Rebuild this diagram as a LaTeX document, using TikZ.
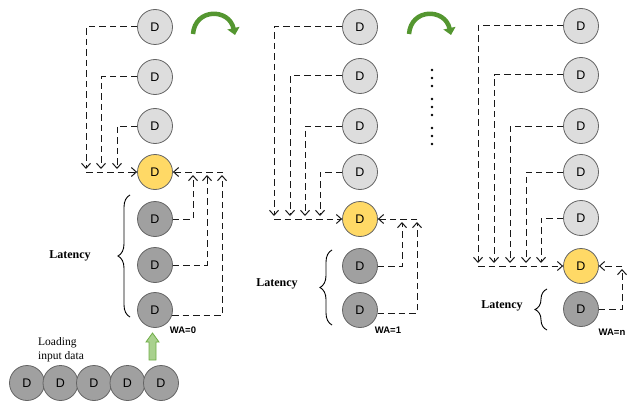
\documentclass[tikz,border=0pt]{standalone}
\usepackage{fontspec}
\setmainfont{Liberation Serif}
\setsansfont{Liberation Sans}
\usetikzlibrary{arrows.meta,decorations.pathreplacing}

\definecolor{cellLight}{RGB}{221,221,221}
\definecolor{cellDark}{RGB}{160,160,160}
\definecolor{cellHot}{RGB}{255,217,102}
\definecolor{cellRim}{RGB}{100,100,100}
\definecolor{turnGreen}{RGB}{84,150,48}
\definecolor{loadFill}{RGB}{169,209,142}
\definecolor{loadRim}{RGB}{112,173,71}

\tikzset{
  cell/.style={circle, minimum size=35pt, inner sep=0pt, draw=cellRim, line width=0.8pt,
               font=\sffamily\fontsize{12.5}{14}\selectfont},
  lightD/.style={cell, fill=cellLight},
  darkD/.style={cell, fill=cellDark},
  hotD/.style={cell, fill=cellHot},
  conn/.style={draw=black!90, line width=1pt, dash pattern=on 6.5pt off 4pt},
  feed/.style={conn, -{Straight Barb[length=5pt,width=9pt]}},
  turn/.style={draw=turnGreen, line width=4.5pt, -{Triangle[length=7pt,width=12pt]}},
  brc/.style={draw=black, line width=0.9pt, decorate, decoration={brace, amplitude=12pt}},
  lat/.style={font=\rmfamily\bfseries\fontsize{12}{14}\selectfont},
  wa/.style={font=\sffamily\bfseries\fontsize{9.5}{11}\selectfont},
  load/.style={font=\rmfamily\fontsize{11.5}{13.5}\selectfont, align=left, inner sep=0pt}
}

\begin{document}
\begin{tikzpicture}[x=1pt, y=-1pt]
\useasboundingbox (0,0) rectangle (628,401);

% ---------------- stage WA=0 ----------------
\node[lightD] (a1) at (155,27)  {D};
\node[lightD] (a2) at (155,77)  {D};
\node[lightD] (a3) at (155,126) {D};
\node[hotD]   (y1) at (155,172) {D};
\node[darkD]  (b1) at (155,219) {D};
\node[darkD]  (b2) at (155,265) {D};
\node[darkD]  (b3) at (155,310) {D};

\coordinate (ta1) at (86,169);
\coordinate (ta2) at (101,169);
\coordinate (ta3) at (117,169);
\coordinate (ha)  at (86,172);
\draw[feed] (a1.west) -| (ta1);
\draw[feed] (a2.west) -| (ta2);
\draw[feed] (a3.west) -| (ta3);
\draw[feed] (ha) -- (y1.west);

\coordinate (tb1) at (193,175);
\coordinate (tb2) at (207,175);
\coordinate (tb3) at (222,175);
\coordinate (hb)  at (223,172);
\draw[feed] (b1.east) -| (tb1);
\draw[feed] (b2.east) -| (tb2);
\draw[feed] (b3.-18) -| (tb3);
\draw[feed] (hb) -- (y1.east);

\draw[brc] (130,317) -- (130,195);
\node[lat] (lat1) at (70,256) {Latency};
\node[wa]  (wa1)  at (183,330) {WA=0};

% input row and loading arrow
\node[darkD] (l1) at (27,383)    {D};
\node[darkD] (l2) at (60.5,383)  {D};
\node[darkD] (l3) at (94,383)    {D};
\node[darkD] (l4) at (127.5,383) {D};
\node[darkD] (l5) at (161,383)   {D};
\node[load, anchor=west] (ld) at (38,349.5) {Loading\\input data};
\draw[fill=loadFill, draw=loadRim, line width=0.8pt]
  (149,360) -- (149,342) -- (146,342) -- (152.5,333) -- (159,342) -- (156,342) -- (156,360) -- cycle;

% rotation to next stage
\coordinate (g1s) at (193,34);
\coordinate (g1e) at (235,35);
\draw[turn] (g1s) .. controls (195,8) and (229,8) .. (g1e);

% ---------------- stage WA=1 ----------------
\node[lightD] (c1) at (360,27)  {D};
\node[lightD] (c2) at (360,76)  {D};
\node[lightD] (c3) at (360,126) {D};
\node[lightD] (c4) at (360,172) {D};
\node[hotD]   (y2) at (360,219) {D};
\node[darkD]  (d1) at (360,266) {D};
\node[darkD]  (d2) at (360,310) {D};

\coordinate (tc1) at (274,216);
\coordinate (tc2) at (290,216);
\coordinate (tc3) at (305,216);
\coordinate (tc4) at (320,216);
\coordinate (hc)  at (274,219);
\draw[feed] (c1.west) -| (tc1);
\draw[feed] (c2.west) -| (tc2);
\draw[feed] (c3.west) -| (tc3);
\draw[feed] (c4.west) -| (tc4);
\draw[feed] (hc) -- (y2.west);

\coordinate (td1) at (402,222);
\coordinate (td2) at (417,222);
\coordinate (hd)  at (417,219);
\draw[feed] (d1.east) -| (td1);
\draw[feed] (d2.-10) -| (td2);
\draw[feed] (hd) -- (y2.east);

\draw[brc] (332,325) -- (332,250);
\node[lat] (lat2) at (277,284) {Latency};
\node[wa]  (wa2)  at (388,330) {WA=1};

\coordinate (g2s) at (409,34);
\coordinate (g2e) at (451,35);
\draw[turn] (g2s) .. controls (411,8) and (445,8) .. (g2e);

% elided intermediate stages
\foreach \yy in {70,78,86,99,107,115,128,136,144}
  \fill (432,\yy) circle (1.4);

% ---------------- stage WA=n ----------------
\node[lightD] (e1) at (581,26)  {D};
\node[lightD] (e2) at (581,75)  {D};
\node[lightD] (e3) at (581,126) {D};
\node[lightD] (e4) at (581,172) {D};
\node[lightD] (e5) at (581,218) {D};
\node[hotD]   (y3) at (581,266) {D};
\node[darkD]  (f1) at (581,309) {D};

\coordinate (te1) at (478,263);
\coordinate (te2) at (494,263);
\coordinate (te3) at (510,263);
\coordinate (te4) at (526,263);
\coordinate (te5) at (541,263);
\coordinate (he)  at (478,266);
\draw[feed] (e1.west) -| (te1);
\draw[feed] (e2.west) -| (te2);
\draw[feed] (e3.west) -| (te3);
\draw[feed] (e4.west) -| (te4);
\draw[feed] (e5.west) -| (te5);
\draw[feed] (he) -- (y3.west);

\coordinate (tf1) at (622,269);
\coordinate (hf)  at (622,266);
\draw[feed] (f1.east) -| (tf1);
\draw[feed] (hf) -- (y3.east);

\draw[brc] (547,330) -- (547,289);
\node[lat] (lat3) at (502,306) {Latency};
\node[wa]  (wa3)  at (612,332) {WA=n};
\end{tikzpicture}
\end{document}
